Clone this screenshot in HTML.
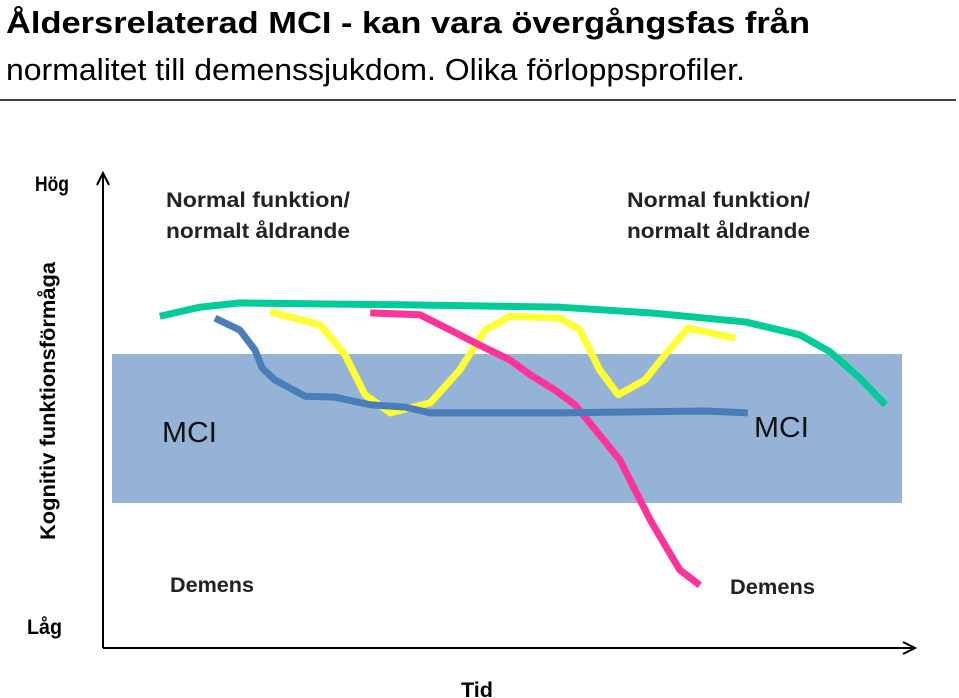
<!DOCTYPE html>
<html><head><meta charset="utf-8"><style>
body{margin:0;background:#fff;}
svg{display:block;font-family:"Liberation Sans",sans-serif;}
</style></head><body>
<svg width="959" height="698" viewBox="0 0 959 698">
<text x="6" y="33" font-size="31" font-weight="bold" textLength="804" lengthAdjust="spacingAndGlyphs">Åldersrelaterad MCI  - kan vara övergångsfas från</text>
<text x="6" y="80" font-size="31" textLength="739" lengthAdjust="spacingAndGlyphs">normalitet till demenssjukdom. Olika förloppsprofiler.</text>
<line x1="0" y1="100" x2="956" y2="100" stroke="#000" stroke-width="1.5"/>
<rect x="112" y="354" width="790" height="149" fill="#95b3d7"/>
<line x1="103" y1="648" x2="103" y2="175" stroke="#000" stroke-width="2"/>
<polyline points="97,185 103,173 109,185" fill="none" stroke="#000" stroke-width="2"/>
<line x1="103" y1="648" x2="913" y2="648" stroke="#000" stroke-width="2"/>
<polyline points="903,642 915,648 903,654" fill="none" stroke="#000" stroke-width="2"/>
<text x="35" y="191" font-size="21" font-weight="bold" textLength="34" lengthAdjust="spacingAndGlyphs">Hög</text>
<text x="27" y="634" font-size="21" font-weight="bold" textLength="35" lengthAdjust="spacingAndGlyphs">Låg</text>
<text transform="translate(55,401) rotate(-90)" text-anchor="middle" font-size="21" font-weight="bold" textLength="278" lengthAdjust="spacingAndGlyphs">Kognitiv funktionsförmåga</text>
<text x="461" y="697" font-size="21" font-weight="bold" textLength="32" lengthAdjust="spacingAndGlyphs">Tid</text>
<text x="166" y="207" font-size="21" font-weight="bold" fill="#222" textLength="184" lengthAdjust="spacingAndGlyphs">Normal funktion/</text>
<text x="166" y="238" font-size="21" font-weight="bold" fill="#222" textLength="184" lengthAdjust="spacingAndGlyphs">normalt åldrande</text>
<text x="627" y="207" font-size="21" font-weight="bold" fill="#222" textLength="183" lengthAdjust="spacingAndGlyphs">Normal funktion/</text>
<text x="627" y="238" font-size="21" font-weight="bold" fill="#222" textLength="183" lengthAdjust="spacingAndGlyphs">normalt åldrande</text>
<text x="162" y="442" font-size="29" fill="#111" textLength="55" lengthAdjust="spacingAndGlyphs">MCI</text>
<text x="754" y="437" font-size="29" fill="#111" textLength="55" lengthAdjust="spacingAndGlyphs">MCI</text>
<text x="170" y="592" font-size="21" font-weight="bold" fill="#222" textLength="84" lengthAdjust="spacingAndGlyphs">Demens</text>
<text x="730" y="594" font-size="21" font-weight="bold" fill="#222" textLength="85" lengthAdjust="spacingAndGlyphs">Demens</text>
<g id="series"></g>
</svg>
<script>
const greenT=[7.1,12.1,17.1,37.1,57.1,68.4,80.3,87.1,90.9,94.6,97.8];
const greenV=[69.7,71.6,72.5,72.1,71.6,70.4,68.5,65.8,62.2,56.7,51.1];
const blueT=[14,17.1,19,19.9,21.5,25.25,29,33.4,37.75,40.9,57.1,75.25,80.6];
const blueV=[69.3,66.8,62.6,58.8,56.3,52.9,52.7,51.1,50.6,49.4,49.4,49.8,49.4];
const yellowT=[20.9,27.1,30.25,32.75,35.9,40.9,44.6,47.75,50.9,57.1,59.6,62.1,64.4,67.75,70.25,73.1,79];
const yellowV=[70.6,67.9,61.6,53.2,49.4,51.5,58.4,66.8,69.7,69.3,66.8,58.4,53.2,56.3,61.6,67.2,65.1];
const pinkT=[33.4,39.6,43.4,47.1,50.9,53.4,56.5,59,62.1,64.6,66.5,68.4,70.25,72.1,74.6];
const pinkV=[70.4,70,66.8,63.6,60.5,57.4,54.2,51.1,44.7,39.5,33.2,26.9,21.6,16.4,13.2];
function xS(t){return 103+t*8;}
function yS(v){return 648-v*4.76;}
const g=document.getElementById('series');
function draw(T,V,color,name){
  const p=document.createElementNS('http://www.w3.org/2000/svg','polyline');
  p.setAttribute('points',T.map((t,i)=>xS(t)+','+yS(V[i])).join(' '));
  p.setAttribute('fill','none');
  p.setAttribute('stroke',color);
  p.setAttribute('stroke-width','7');
  p.setAttribute('stroke-linejoin','round');
  
  
  g.appendChild(p);
}
draw(greenT,greenV,'#00cc99','green-curve');
draw(yellowT,yellowV,'#ffff33','yellow-curve');
draw(pinkT,pinkV,'#ff3399','pink-curve');
draw(blueT,blueV,'#4a7ebb','blue-curve');
</script>
</body></html>
